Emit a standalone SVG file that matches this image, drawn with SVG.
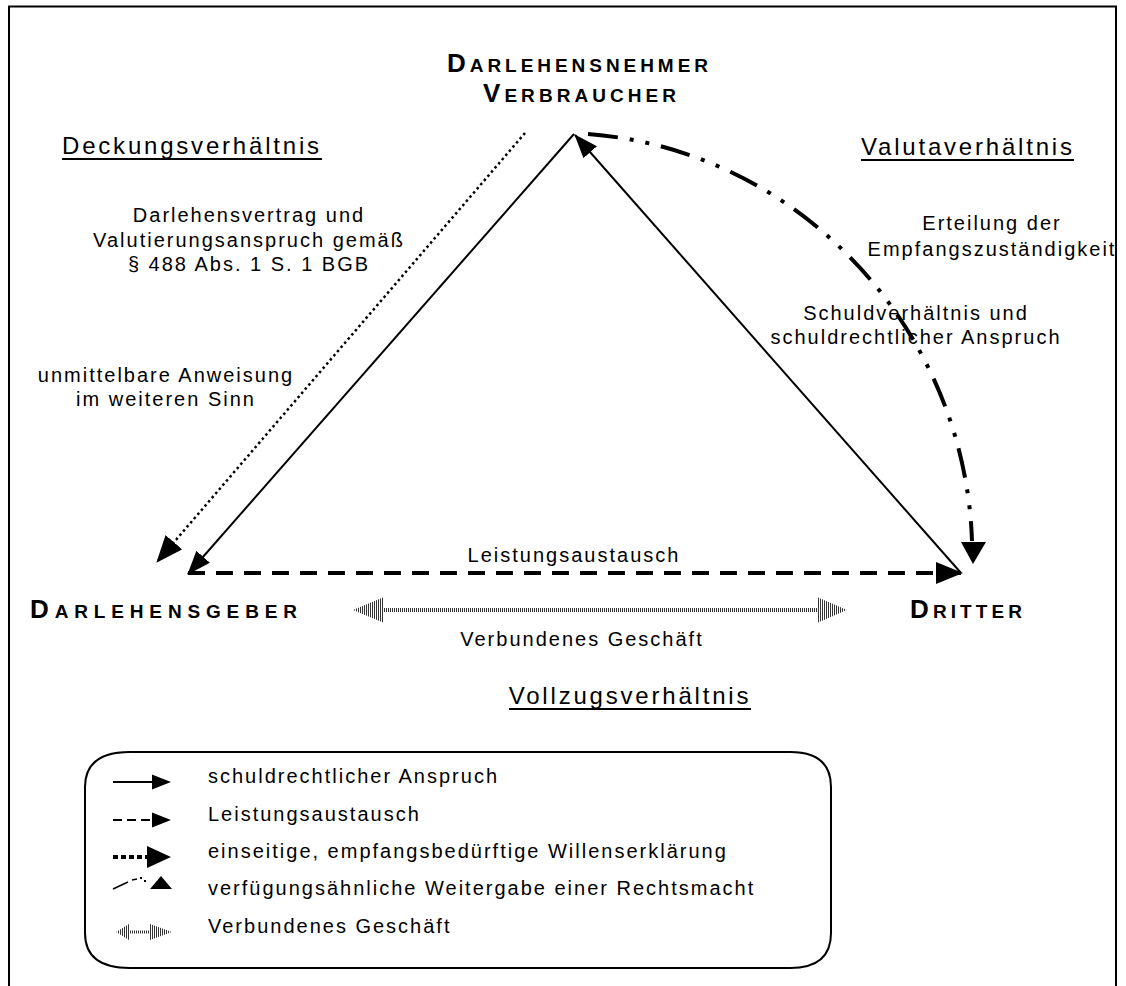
<svg xmlns="http://www.w3.org/2000/svg" width="1126" height="986" viewBox="0 0 1126 986">
<style>
text{font-family:"Liberation Sans",Arial,sans-serif;fill:#000}
.t{font-size:20px;letter-spacing:2px}
.h{font-size:24px;letter-spacing:2.8px}
.n{font-weight:bold;font-size:19px}
.cap{font-size:26px}
.ul{stroke:#000;stroke-width:2}
.solid{fill:none;stroke:#000;stroke-width:2}
.dash{fill:none;stroke:#000;stroke-width:4;stroke-dasharray:17 11}
.dot{fill:none;stroke:#000;stroke-width:2.5;stroke-dasharray:2.5 3}
.dd{fill:none;stroke:#000;stroke-width:4;stroke-dasharray:30 12 4 12 4 12}
.hat{fill:url(#hatch)}
</style>
<defs>
<pattern id="hatch" patternUnits="userSpaceOnUse" width="2" height="4"><rect width="2" height="4" fill="#fff"/><rect width="1" height="4" fill="#333"/></pattern>
<marker id="ah" markerUnits="userSpaceOnUse" viewBox="0 0 24 18" refX="23" refY="9" markerWidth="24" markerHeight="18" orient="auto"><path d="M0,0 L24,9 L0,18 z"/></marker>
<marker id="ahd" markerUnits="userSpaceOnUse" viewBox="0 0 27 22" refX="26" refY="11" markerWidth="27" markerHeight="22" orient="auto"><path d="M0,0 L27,11 L0,22 z"/></marker>
<marker id="aht" markerUnits="userSpaceOnUse" viewBox="0 0 27 22" refX="26" refY="11" markerWidth="27" markerHeight="22" orient="auto"><path d="M0,0 L27,11 L0,22 z"/></marker>
</defs>

<path id="frame" d="M9,986 V6.5 H1116 V986" fill="none" stroke="#000" stroke-width="2"/>

<g id="node-darlehensnehmer">
<text x="447" y="72" class="n" textLength="261" lengthAdjust="spacing"><tspan class="cap">D</tspan>ARLEHENSNEHMER</text>
<text x="483" y="102" class="n" textLength="193" lengthAdjust="spacing"><tspan class="cap">V</tspan>ERBRAUCHER</text>
</g>
<g id="node-darlehensgeber">
<text x="30" y="618" class="n" textLength="267" lengthAdjust="spacing"><tspan class="cap">D</tspan>ARLEHENSGEBER</text>
</g>
<g id="node-dritter">
<text x="910" y="618" class="n" textLength="112" lengthAdjust="spacing"><tspan class="cap">D</tspan>RITTER</text>
</g>

<g id="headers">
<text x="62" y="154" class="h">Deckungsverhältnis</text>
<line class="ul" x1="62" y1="159" x2="322" y2="159"/>
<text x="861" y="155" class="h">Valutaverhältnis</text>
<line class="ul" x1="861" y1="160" x2="1074" y2="160"/>
<text x="630" y="704" class="h" text-anchor="middle">Vollzugsverhältnis</text>
<line class="ul" x1="509" y1="709" x2="751" y2="709"/>
</g>

<g id="labels">
<text class="t" text-anchor="middle" x="249" y="222">Darlehensvertrag und</text>
<text class="t" text-anchor="middle" x="249" y="247">Valutierungsanspruch gemäß</text>
<text class="t" text-anchor="middle" x="249" y="271">§ 488 Abs. 1 S. 1 BGB</text>
<text class="t" text-anchor="middle" x="166" y="382">unmittelbare Anweisung</text>
<text class="t" text-anchor="middle" x="166" y="406">im weiteren Sinn</text>
<text class="t" text-anchor="middle" x="992" y="230">Erteilung der</text>
<text class="t" text-anchor="middle" x="992" y="256">Empfangszuständigkeit</text>
<text class="t" text-anchor="middle" x="916" y="320">Schuldverhältnis und</text>
<text class="t" text-anchor="middle" x="916" y="344">schuldrechtlicher Anspruch</text>
<text class="t" text-anchor="middle" x="574" y="562">Leistungsaustausch</text>
<text class="t" text-anchor="middle" x="582" y="646">Verbundenes Geschäft</text>
</g>

<g id="connectors">
<path class="solid" d="M574,134 L188,574" marker-end="url(#ah)"/>
<path class="solid" d="M961,573 L575,135" marker-end="url(#ah)"/>
<path class="dash" d="M188,573 L962,573" marker-end="url(#ahd)"/>
<path class="dot" d="M525,133 L157,562" marker-end="url(#aht)"/>
<path class="dd" d="M588,134 C800,150 965,330 972,541"/>
<polygon points="961,542 986,542 973,564"/>
<polygon class="hat" points="353,610 383,597.5 383,608 818,608 818,597.5 847,610 818,622.5 818,612 383,612 383,622.5"/>
</g>

<g id="legend">
<path d="M130,752 H790 Q831,752 831,787 V933 Q831,968 790,968 H130 Q85,968 85,933 V787 Q85,752 130,752 Z" fill="none" stroke="#000" stroke-width="2"/>
<line x1="113" y1="782" x2="155" y2="782" stroke="#000" stroke-width="2"/>
<polygon points="152,774.5 171,782 152,789.5"/>
<line x1="113" y1="820" x2="152" y2="820" stroke="#000" stroke-width="2" stroke-dasharray="9 5"/>
<polygon points="152,812.5 171,820 152,827.5"/>
<line x1="113" y1="857" x2="148" y2="857" stroke="#000" stroke-width="4" stroke-dasharray="5 3"/>
<polygon points="147,846 171,857 147,868"/>
<line x1="113" y1="889" x2="128" y2="882" stroke="#000" stroke-width="1.5"/>
<line x1="132" y1="880" x2="137" y2="879" stroke="#000" stroke-width="1.5"/>
<rect x="140" y="877" width="2" height="2"/>
<rect x="144" y="880" width="2" height="2"/>
<polygon points="150,889 172,889 161,876"/>
<polygon class="hat" points="116,932 129,924 129,930.5 150,930.5 150,924 172,932 150,940 150,933.5 129,933.5 129,940"/>
<text class="t" x="208" y="783">schuldrechtlicher Anspruch</text>
<text class="t" x="208" y="821">Leistungsaustausch</text>
<text class="t" x="208" y="858">einseitige, empfangsbedürftige Willenserklärung</text>
<text class="t" x="208" y="895">verfügungsähnliche Weitergabe einer Rechtsmacht</text>
<text class="t" x="208" y="933">Verbundenes Geschäft</text>
</g>
</svg>
